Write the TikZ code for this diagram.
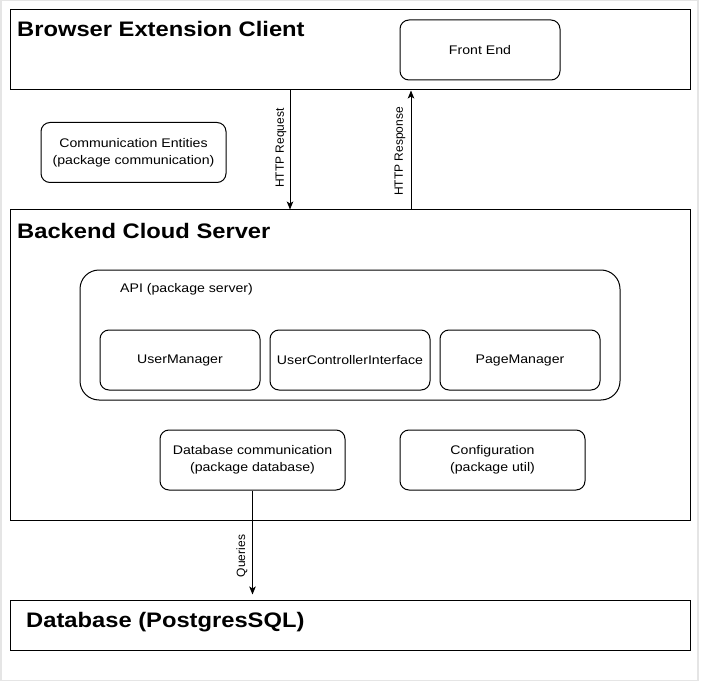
\documentclass[tikz,border=0pt]{standalone}
\usepackage{fontspec}
\setmainfont{Liberation Sans}
\newfontfamily\bodyfont{Liberation Sans}[FakeStretch=1.13]
\usetikzlibrary{arrows.meta}
\tikzset{
  box/.style={draw=black, line width=1pt, rounded corners=9pt, fill=white, inner sep=0pt,
    align=center, font=\bodyfont\fontsize{12.5}{17}\selectfont},
  panel/.style={draw=black, line width=1pt, fill=white, inner sep=0pt},
  paneltitle/.style={anchor=base west, inner sep=0pt, font=\bodyfont\bfseries\fontsize{21}{25}\selectfont},
  plain/.style={inner sep=0pt, font=\bodyfont\fontsize{12.5}{17}\selectfont},
  lbl/.style={font=\fontsize{12}{14}\selectfont, rotate=90, inner sep=0pt},
  arr/.style={draw=black, line width=1pt, -{Stealth[length=8pt,width=6.5pt,inset=2pt]}},
}
\begin{document}
\begin{tikzpicture}[x=1pt,y=-1pt]
\useasboundingbox (0,0) rectangle (702,682);
\fill[white] (0,0) rectangle (702,682);
\draw[line width=1.5pt, black!10] (0.75,0.75) rectangle (698,680.5);

% panels
\node[panel, minimum width=680pt, minimum height=80pt] (bec) at (350,50) {};
\node[paneltitle] (bect) at (17,37) {Browser Extension Client};
\node[box, minimum width=160pt, minimum height=60pt] (fe) at (480,50) {Front End};

\node[box, minimum width=185pt, minimum height=60pt] (ce) at (133.5,152.5) {Communication Entities\\(package communication)};

\node[panel, minimum width=680pt, minimum height=310pt] (bcs) at (350,365) {};
\node[paneltitle] (bcst) at (17,238) {Backend Cloud Server};

\node[box, rounded corners=19pt, minimum width=540pt, minimum height=130pt] (api) at (350,335) {};
\node[plain, anchor=base west] (apit) at (120,292) {API (package server)};
\node[box, minimum width=160pt, minimum height=60pt] (um) at (180,360) {UserManager};
\node[box, minimum width=160pt, minimum height=60pt] (uci) at (350,360) {UserControllerInterface};
\node[box, minimum width=160pt, minimum height=60pt] (pm) at (520,360) {PageManager};

\node[box, minimum width=185pt, minimum height=60pt] (dbc) at (252.5,460) {Database communication\\(package database)};
\node[box, minimum width=185pt, minimum height=60pt] (cfg) at (492.5,460) {Configuration\\(package util)};

\node[panel, minimum width=680pt, minimum height=50pt] (db) at (350,625) {};
\node[paneltitle] (dbt) at (26,627) {Database (PostgresSQL)};

% connectors
\draw[arr] ([xshift=280.5pt]bec.south west) -- ([xshift=280.5pt]bcs.north west);
\draw[arr] ([xshift=401.5pt]bcs.north west) -- ([xshift=401.5pt]bec.south west);
\draw[arr, shorten >=5pt] (dbc.south) -- (dbc.south |- db.north);

% labels
\node[lbl] (lreq) at (281,148) {HTTP Request};
\node[lbl] (lres) at (400,151.5) {HTTP Response};
\node[lbl] (lq) at (242,556) {Queries};
\end{tikzpicture}
\end{document}
